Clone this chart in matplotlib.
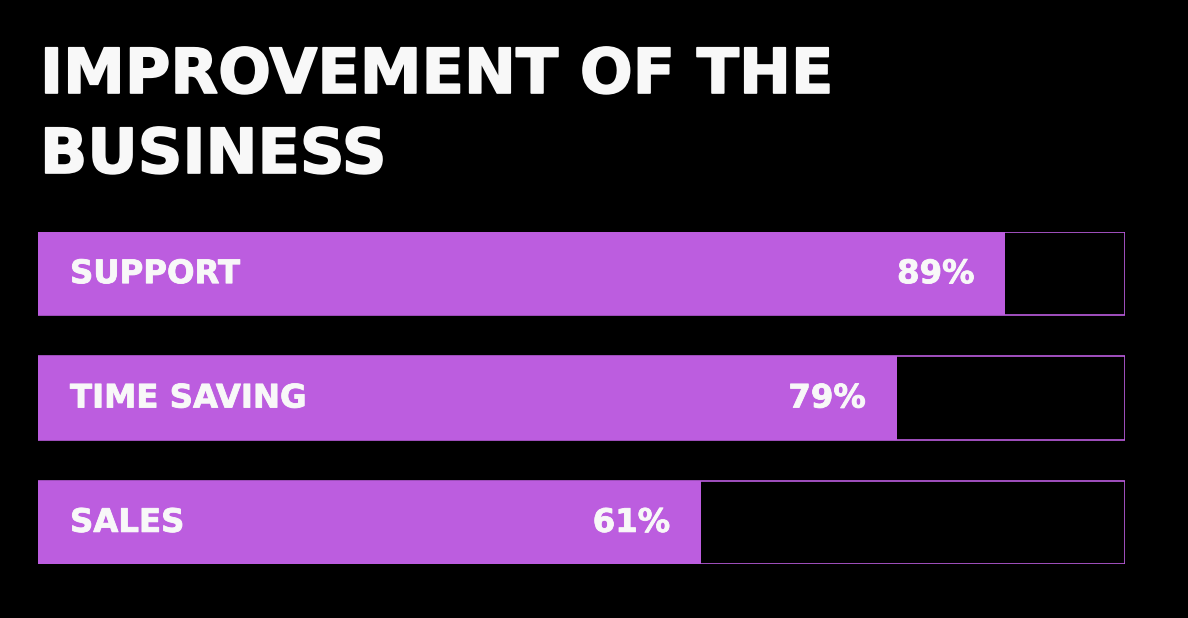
import matplotlib
matplotlib.use("Agg")
import matplotlib.pyplot as plt
import matplotlib.patheffects as pe

categories = ["SUPPORT", "TIME SAVING", "SALES"]
values = [89, 79, 61]
value_labels = ["89%", "79%", "61%"]

purple = "#bc5ddf"
white = "#f8f8f8"

plt.rcParams["font.family"] = ["DejaVu Sans"]

fig = plt.figure(figsize=(11.88, 6.18), dpi=100, facecolor="black")

# title, a thin stroke makes it a bit heavier like the original
bold = [pe.withStroke(linewidth=1.2, foreground=white)]
fig.text(40 / 1188, 1 - 93 / 618, "IMPROVEMENT OF THE", color=white,
         fontsize=44.7, fontweight="bold", ha="left", va="baseline",
         path_effects=bold)
fig.text(40 / 1188, 1 - 173 / 618, "BUSINESS", color=white,
         fontsize=44.7, fontweight="bold", ha="left", va="baseline",
         path_effects=bold)

ax = fig.add_axes([38 / 1188, 1 - 564 / 618, 1087 / 1188, 332 / 618])
ax.set_facecolor("black")
pos = list(range(len(categories)))
bar_h = 83 / 124
ax.barh(pos, [100] * len(values), height=bar_h, color="black",
        edgecolor=purple, linewidth=1.2)
ax.barh(pos, values, height=bar_h, color=purple, edgecolor="none")
ax.set_xlim(0, 100)
ax.set_ylim(2 + bar_h / 2, -bar_h / 2)
ax.axis("off")

lab_fx = [pe.withStroke(linewidth=0.6, foreground=white)]
for p, cat, v, lab in zip(pos, categories, values, value_labels):
    ax.annotate(cat, (0, p), xytext=(32, -1), textcoords="offset pixels",
                color=white, fontsize=23.3, fontweight="bold",
                ha="left", va="center", path_effects=lab_fx)
    ax.annotate(lab, (v, p), xytext=(-31, -1), textcoords="offset pixels",
                color=white, fontsize=23.3, fontweight="bold",
                ha="right", va="center", path_effects=lab_fx)

fig.savefig("out.png", dpi=100, facecolor="black")
